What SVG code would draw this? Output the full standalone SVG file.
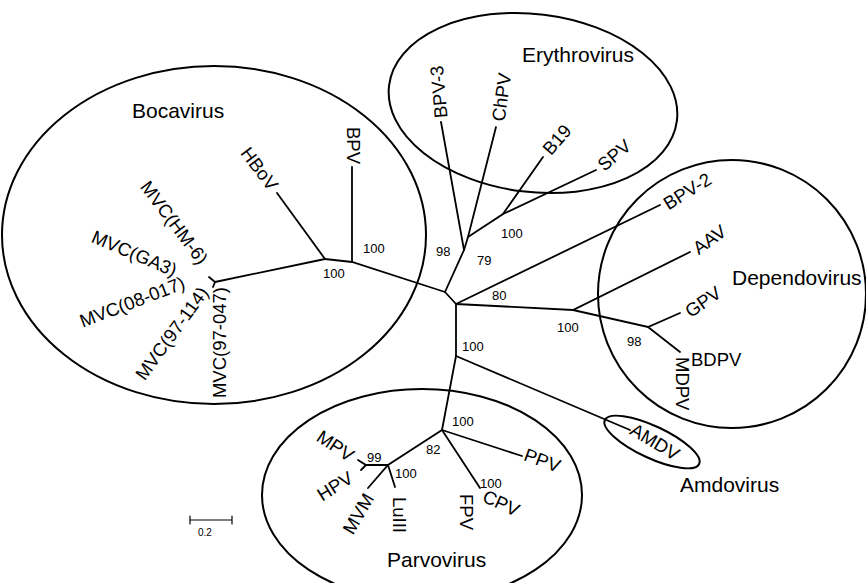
<svg xmlns="http://www.w3.org/2000/svg" width="866" height="583" viewBox="0 0 866 583">
<style>
.edge{stroke:#000;stroke-width:1.8;fill:none;stroke-linecap:round}
.clade{stroke:#000;stroke-width:2;fill:none}
.grp{font-family:"Liberation Sans",Arial,sans-serif;font-size:21px;fill:#000}
.leaf{font-family:"Liberation Sans",Arial,sans-serif;font-size:18.5px;fill:#000;dominant-baseline:central}
.sup{font-family:"Liberation Sans",Arial,sans-serif;font-size:13px;fill:#000}
.end{text-anchor:end}
</style>
<rect width="866" height="583" fill="#fff"/>
<g id="clades">
 <g id="bocavirus"><ellipse class="clade" cx="214" cy="235" rx="212" ry="169"/><text class="grp" x="132" y="118">Bocavirus</text></g>
 <g id="erythrovirus"><ellipse class="clade" cx="533" cy="103" rx="145" ry="89" transform="rotate(7 533 103)"/><text class="grp" x="522" y="62">Erythrovirus</text></g>
 <g id="dependovirus"><ellipse class="clade" cx="732" cy="294" rx="134" ry="134"/><text class="grp" x="732" y="285">Dependovirus</text></g>
 <g id="amdovirus"><ellipse class="clade" cx="652" cy="442" rx="52" ry="16" transform="rotate(25 652 442)"/><text class="grp" x="680" y="492">Amdovirus</text></g>
 <g id="parvovirus"><ellipse class="clade" cx="422" cy="495" rx="160" ry="106"/><text class="grp" x="387" y="567">Parvovirus</text></g>
</g>
<g id="connectors">
 <path class="edge" d="M445 292 L456 304"/>
 <path class="edge" d="M445 292 L352 262 L325 259"/>
 <path class="edge" d="M352 262 L352 167"/>
 <path class="edge" d="M325 259 L277 193"/>
 <path class="edge" d="M325 259 L215 282"/>
 <path class="edge" d="M215 282 L209 277 M215 282 L213 287"/>
 <path class="edge" d="M445 292 L464 250 L441 122"/>
 <path class="edge" d="M464 250 L468 237 L496 127"/>
 <path class="edge" d="M468 237 L503 214 L543 157"/>
 <path class="edge" d="M503 214 L596 170"/>
 <path class="edge" d="M456 304 L660 205"/>
 <path class="edge" d="M456 304 L573 310 L690 252"/>
 <path class="edge" d="M573 310 L648 327 L680 313"/>
 <path class="edge" d="M648 327 L680 352"/>
 <path class="edge" d="M456 304 L456 356 L630 430"/>
 <path class="edge" d="M456 356 L442 430 L522 456"/>
 <path class="edge" d="M442 430 L480 488"/>
 <path class="edge" d="M442 430 L388 465 L368 488"/>
 <path class="edge" d="M388 465 L395 487"/>
 <path class="edge" d="M388 465 L366 465 L358 460 M366 465 L361 470"/>
</g>
<g id="leaves">
 <g id="n-BPV"><text class="leaf end" transform="translate(353.5 164) rotate(90)">BPV</text></g>
 <g id="n-HBoV"><text class="leaf end" transform="translate(274 188) rotate(53)">HBoV</text></g>
 <g id="n-MVC-HM6"><text class="leaf end" transform="translate(204 262) rotate(53)">MVC(HM-6)</text></g>
 <g id="n-MVC-GA3"><text class="leaf end" transform="translate(176 271) rotate(23)">MVC(GA3)</text></g>
 <g id="n-MVC-08017"><text class="leaf end" transform="translate(184 282) rotate(-21)">MVC(08-017)</text></g>
 <g id="n-MVC-97114"><text class="leaf end" transform="translate(204 289) rotate(-54)">MVC(97-114)</text></g>
 <g id="n-MVC-97047"><text class="leaf end" transform="translate(219.5 287) rotate(-90)">MVC(97-047)</text></g>
 <g id="n-BPV3"><text class="leaf" transform="translate(441 118) rotate(-95)">BPV-3</text></g>
 <g id="n-ChPV"><text class="leaf" transform="translate(498 121) rotate(-82)">ChPV</text></g>
 <g id="n-B19"><text class="leaf" transform="translate(546 152) rotate(-49)">B19</text></g>
 <g id="n-SPV"><text class="leaf" transform="translate(600 167) rotate(-40)">SPV</text></g>
 <g id="n-BPV2"><text class="leaf" transform="translate(665 205) rotate(-32)">BPV-2</text></g>
 <g id="n-AAV"><text class="leaf" transform="translate(695 250) rotate(-36)">AAV</text></g>
 <g id="n-GPV"><text class="leaf" transform="translate(687 313) rotate(-35)">GPV</text></g>
 <g id="n-BDPV"><text class="leaf" x="691" y="359">BDPV</text></g>
 <g id="n-MDPV"><text class="leaf" transform="translate(682.5 357) rotate(90)">MDPV</text></g>
 <g id="n-AMDV"><text class="leaf" transform="translate(632 428) rotate(31)">AMDV</text></g>
 <g id="n-PPV"><text class="leaf" transform="translate(525 454) rotate(20)">PPV</text></g>
 <g id="n-CPV"><text class="leaf" transform="translate(484 495) rotate(25)">CPV</text></g>
 <g id="n-FPV"><text class="leaf" transform="translate(466 494) rotate(90)">FPV</text></g>
 <g id="n-LuIII"><text class="leaf" transform="translate(399.5 497) rotate(90)">LuIII</text></g>
 <g id="n-MVM"><text class="leaf end" transform="translate(369 495) rotate(-60)">MVM</text></g>
 <g id="n-MPV"><text class="leaf end" transform="translate(352 457) rotate(34)">MPV</text></g>
 <g id="n-HPV"><text class="leaf end" transform="translate(351 476) rotate(-32)">HPV</text></g>
</g>
<g id="support">
 <text class="sup" x="363" y="253">100</text>
 <text class="sup" x="323" y="278">100</text>
 <text class="sup" x="436" y="256">98</text>
 <text class="sup" x="477" y="265">79</text>
 <text class="sup" x="501" y="238">100</text>
 <text class="sup" x="492" y="300">80</text>
 <text class="sup" x="557" y="332">100</text>
 <text class="sup" x="627" y="346">98</text>
 <text class="sup" x="462" y="351">100</text>
 <text class="sup" x="452" y="426">100</text>
 <text class="sup" x="426" y="454">82</text>
 <text class="sup" x="367" y="462">99</text>
 <text class="sup" x="395" y="478">100</text>
 <text class="sup" x="480" y="488">100</text>
</g>
<g id="scale">
 <path class="edge" d="M190 520 H232 M190 516 V524 M232 516 V524" style="stroke-width:1.2"/>
 <text class="sup" x="198" y="536" style="font-size:10px">0.2</text>
</g>
</svg>
